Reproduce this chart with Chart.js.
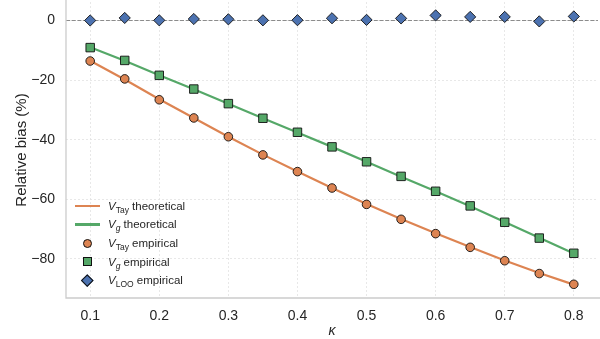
<!DOCTYPE html>
<html>
<head>
<meta charset="utf-8">
<script src="https://cdn.jsdelivr.net/npm/chart.js@4/dist/chart.umd.min.js"></script>
<style>
  html, body { margin: 0; padding: 0; background: #fff; }
  #wrap { position: relative; width: 600px; height: 339px; }
  #legend { position: absolute; left: 75px; top: 196.4px; font-family: "Liberation Sans", Arial, sans-serif; font-size: 11.5px; color: #262626; }
  .row { height: 18.7px; display: flex; align-items: center; white-space: nowrap; }
  .h { width: 25px; height: 18px; position: relative; margin-right: 8px; flex: none; }
  .h .ln { position: absolute; left: 0; top: 8px; width: 25px; height: 2.2px; }
  .h .mk { position: absolute; box-sizing: border-box; border: 1px solid #111; }
  .lab sub { font-size: 8.5px; vertical-align: -2.5px; line-height: 0; }
</style>
</head>
<body>
<div id="wrap">
  <canvas id="c" width="600" height="339"></canvas>
  <div id="legend"></div>
</div>
<script>
// ---- data ----
const kappa = [0.1, 0.15, 0.2, 0.25, 0.3, 0.35, 0.4, 0.45, 0.5, 0.55, 0.6, 0.65, 0.7, 0.75, 0.8];
const tayTheory = [-13.5, -19.8, -26.4, -32.7, -39.0, -45.0, -50.7, -56.2, -61.6, -66.6, -71.4, -76.0, -80.5, -84.7, -88.6];
const gTheory   = [-9.0, -13.5, -18.4, -23.1, -27.9, -32.8, -37.6, -42.4, -47.4, -52.4, -57.3, -62.3, -67.6, -72.9, -78.2];
const tayEmp = [-13.6, -19.6, -26.6, -32.7, -39.0, -45.1, -50.7, -56.2, -61.7, -66.7, -71.5, -76.1, -80.6, -84.9, -88.5];
const gEmp   = [-9.1, -13.4, -18.4, -23.0, -27.9, -32.8, -37.5, -42.4, -47.4, -52.3, -57.3, -62.2, -67.7, -73.0, -78.1];
const looEmp = [0.0, 0.85, 0.05, 0.5, 0.4, 0.05, 0.1, 0.75, 0.2, 0.7, 1.7, 1.2, 1.2, -0.3, 1.35];
const xTicks = [0.1, 0.2, 0.3, 0.4, 0.5, 0.6, 0.7, 0.8];
const yTicks = [-80, -60, -40, -20, 0];
const xTitle = 'κ';
const yTitle = 'Relative bias (%)';

const ORANGE = '#DD8452', GREEN = '#55A868', BLUE = '#4C72B0';
const FAM = '"Liberation Sans", Arial, sans-serif';
const TXT = '#262626';

const pts = ys => kappa.map((k, i) => ({ x: k, y: ys[i] }));

const legendItems = [
  { sym: 'V', sub: 'Tay', subIt: false, rest: ' theoretical', kind: 'line', color: ORANGE },
  { sym: 'V', sub: 'g', subIt: true, rest: ' theoretical', kind: 'line', color: GREEN },
  { sym: 'V', sub: 'Tay', subIt: false, rest: ' empirical', kind: 'circle', color: ORANGE },
  { sym: 'V', sub: 'g', subIt: true, rest: ' empirical', kind: 'square', color: GREEN },
  { sym: 'V', sub: 'LOO', subIt: false, rest: ' empirical', kind: 'diamond', color: BLUE }
];

const refLines = {
  id: 'refLines',
  beforeDatasetsDraw(chart) {
    const { ctx, chartArea: a, scales: { y } } = chart;
    ctx.save();
    const y0 = y.getPixelForValue(0);
    ctx.strokeStyle = '#8c8c8c';
    ctx.lineWidth = 1.1;
    ctx.setLineDash([4, 1.7]);
    ctx.beginPath(); ctx.moveTo(a.left, y0); ctx.lineTo(a.right, y0); ctx.stroke();
    ctx.setLineDash([]);
    ctx.strokeStyle = '#cccccc';
    ctx.lineWidth = 1.3;
    ctx.beginPath(); ctx.moveTo(a.left, 0); ctx.lineTo(a.left, a.bottom); ctx.lineTo(600, a.bottom); ctx.stroke();
    ctx.restore();
  }
};

new Chart(document.getElementById('c'), {
  type: 'line',
  data: {
    datasets: [
      { label: 'V_Tay theoretical', data: pts(tayTheory), borderColor: ORANGE, borderWidth: 2.2, pointRadius: 0, fill: false, order: 10 },
      { label: 'V_g theoretical', data: pts(gTheory), borderColor: GREEN, borderWidth: 2.2, pointRadius: 0, fill: false, order: 10 },
      { label: 'V_Tay empirical', data: pts(tayEmp), showLine: false, pointStyle: 'circle', pointRadius: 4.3,
        pointBackgroundColor: ORANGE, pointBorderColor: '#111', pointBorderWidth: 0.9, order: 1 },
      { label: 'V_g empirical', data: pts(gEmp), showLine: false, pointStyle: 'rect', pointRadius: 6.0,
        pointBackgroundColor: GREEN, pointBorderColor: '#111', pointBorderWidth: 0.9, order: 1 },
      { label: 'V_LOO empirical', data: pts(looEmp), showLine: false, pointStyle: 'rectRot', pointRadius: 5.6,
        pointBackgroundColor: BLUE, pointBorderColor: '#111', pointBorderWidth: 0.9, order: 1 }
    ]
  },
  options: {
    responsive: false,
    animation: false,
    devicePixelRatio: 1,
    layout: { autoPadding: false, padding: { top: 2, right: 2, left: 0, bottom: 0 } },
    plugins: { legend: { display: false }, tooltip: { enabled: false } },
    scales: {
      x: {
        type: 'linear', min: 0.065, max: 0.835,
        afterBuildTicks: s => { s.ticks = xTicks.map(v => ({ value: v })); },
        afterFit: s => { s.height = 41; s.paddingLeft = 0; s.paddingRight = 0; },
        grid: { color: '#e2e2e2', lineWidth: 0.8, drawTicks: false },
        border: { display: false, dash: [2, 2] },
        ticks: { padding: 10, color: TXT, font: { family: FAM, size: 14 }, callback: v => Number(v).toFixed(1), maxRotation: 0 },
        title: { display: true, text: xTitle, color: TXT, font: { family: FAM, size: 14, style: 'italic', lineHeight: 1 }, padding: { top: 0, bottom: 1 } }
      },
      y: {
        type: 'linear', min: -93.1, max: 6.2,
        afterBuildTicks: s => { s.ticks = yTicks.map(v => ({ value: v })); },
        afterFit: s => { s.width = 66; s.paddingTop = 0; s.paddingBottom = 0; },
        grid: { color: '#e2e2e2', lineWidth: 0.8, drawTicks: false },
        border: { display: false, dash: [2, 2] },
        ticks: { padding: 11, color: TXT, font: { family: FAM, size: 14 }, callback: v => (v < 0 ? '\u2212' + Math.abs(v) : String(v)) },
        title: { display: true, text: yTitle, color: TXT, font: { family: FAM, size: 15, lineHeight: 1 }, padding: { top: 14, bottom: 0 } }
      }
    }
  },
  plugins: [refLines]
});

// HTML legend (rich text with subscripts)
const leg = document.getElementById('legend');
legendItems.forEach(it => {
  const row = document.createElement('div');
  row.className = 'row';
  const h = document.createElement('div');
  h.className = 'h';
  if (it.kind === 'line') {
    const l = document.createElement('div'); l.className = 'ln'; l.style.background = it.color; h.appendChild(l);
  } else {
    const m = document.createElement('div'); m.className = 'mk'; m.style.background = it.color;
    if (it.kind === 'circle') { Object.assign(m.style, { width: '9px', height: '9px', left: '8px', top: '4.5px', borderRadius: '50%' }); }
    if (it.kind === 'square') { Object.assign(m.style, { width: '9px', height: '9px', left: '8px', top: '4.5px' }); }
    if (it.kind === 'diamond') { Object.assign(m.style, { width: '8.5px', height: '8.5px', left: '8.25px', top: '4.75px', transform: 'rotate(45deg)' }); }
    h.appendChild(m);
  }
  const lab = document.createElement('span');
  lab.className = 'lab';
  const i = document.createElement('i'); i.textContent = it.sym;
  const sub = document.createElement('sub'); sub.textContent = it.sub; if (it.subIt) sub.style.fontStyle = 'italic';
  lab.appendChild(i); lab.appendChild(sub); lab.appendChild(document.createTextNode(it.rest));
  row.appendChild(h); row.appendChild(lab);
  leg.appendChild(row);
});
</script>
</body>
</html>
